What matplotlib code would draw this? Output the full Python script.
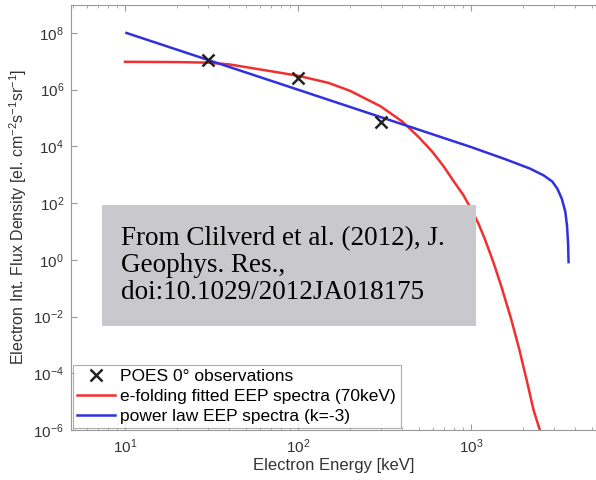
import numpy as np
import matplotlib
matplotlib.use("Agg")
import matplotlib.pyplot as plt
from matplotlib.patches import Rectangle
from matplotlib.ticker import LogLocator, NullFormatter

# ---- data ----
poes_energy = [30, 100, 300]
poes_flux = [1.1e7, 2.6e6, 7.2e4]

efold_energy = [10, 20, 30, 40, 60, 80, 100, 150, 200, 300, 400, 500, 600, 700, 800,
                900, 1000, 1100, 1200, 1350, 1500, 1700, 1900, 2100, 2300, 2530]
efold_flux = [9.6e6, 9.4e6, 9.0e6, 7.8e6, 5.2e6, 3.9e6, 3.1e6, 1.74e6, 9.1e5, 2.6e5, 7.6e4,
              2.1e4, 6.3e3, 1.86e3, 5.5e2, 2.0e2, 6.3e1, 2.0e1, 5.6, 7.9e-1, 1.12e-1,
              8.9e-3, 7.1e-4, 5.6e-5, 5.0e-6, 7.9e-7]

power_energy = [10.2, 100, 1000, 1585, 2188, 2630, 2951, 3162, 3350, 3508, 3589, 3639, 3664]
power_flux = [1.0e8, 1.0e6, 9.5e3, 3.5e3, 1.66e3, 9.5e2, 5.75e2, 3.16e2, 1.41e2, 5.0e1,
              1.58e1, 4.0, 0.83]

legend_labels = ["POES 0\u00b0 observations",
                 "e-folding fitted EEP spectra (70keV)",
                 "power law EEP spectra (k=-3)"]
xlabel = "Electron Energy [keV]"
ylabel = "Electron Int. Flux Density [el. cm$^{-2}$s$^{-1}$sr$^{-1}$]"
note = "From Clilverd et al. (2012), J.\nGeophys. Res.,\ndoi:10.1029/2012JA018175"

plt.rcParams['font.family'] = ['Liberation Sans', 'DejaVu Sans']
plt.rcParams['mathtext.fontset'] = 'custom'
plt.rcParams['mathtext.rm'] = 'Liberation Sans'
plt.rcParams['mathtext.it'] = 'Liberation Sans:italic'

W, H = 596, 480
fig = plt.figure(figsize=(W / 100, H / 100), dpi=100)
left_px, right_px, top_px, bot_px = 71, 596, 4.6, 430
ax = fig.add_axes([left_px / W, 1 - bot_px / H, (right_px - left_px) / W, (bot_px - top_px) / H])

ax.set_xscale('log')
ax.set_yscale('log')
ax.set_xlim(10 ** 0.688, 10 ** 3.7225)
ax.set_ylim(1e-6, 1e9)

l1, = ax.plot(poes_energy, poes_flux, linestyle='none', marker='x', color='#222222',
              markersize=8, markeredgewidth=1.8, zorder=4)
l2, = ax.plot(efold_energy, efold_flux, color='#f03030', lw=1.8)
l3, = ax.plot(power_energy, power_flux, color='#3030e0', lw=1.8)

ax.set_yticks([1e-6, 1e-4, 1e-2, 1e0, 1e2, 1e4, 1e6, 1e8])
ax.yaxis.set_minor_locator(plt.NullLocator())
ax.xaxis.set_major_locator(LogLocator(base=10, numticks=10))
ax.xaxis.set_minor_locator(LogLocator(base=10, subs=np.arange(2, 10), numticks=20))
ax.xaxis.set_minor_formatter(NullFormatter())
ax.tick_params(which='both', direction='in', top=True, right=False, colors='#999999',
               labelcolor='#333333', labelsize=11)
ax.tick_params(which='major', length=4, pad=5)
ax.tick_params(which='minor', length=2)
for s in ['left', 'bottom', 'top']:
    ax.spines[s].set_color('#999999')
ax.spines['right'].set_visible(False)

ax.set_xlabel(xlabel, fontsize=12, color='#333333', labelpad=2)
ax.set_ylabel(ylabel, fontsize=11.5, color='#333333', labelpad=3)

leg = ax.legend([l1, l2, l3], legend_labels, loc='lower left', fontsize=12.5,
                frameon=True, fancybox=False, edgecolor='#999999', borderaxespad=0.1,
                handlelength=2.2, labelspacing=0.27, borderpad=0.25, handletextpad=0.3)
leg.get_frame().set_linewidth(0.8)

# gray note box
fig.patches.append(Rectangle((102 / W, 1 - 326 / H), (476 - 102) / W, (326 - 205) / H,
                             transform=fig.transFigure, facecolor='#c9c9cd',
                             edgecolor='none', zorder=5))
fig.text(121 / W, 1 - 226 / H, note, fontsize=19.5, family='Liberation Serif',
         va='top', ha='left', linespacing=1.1, zorder=6)

fig.savefig('out.png', dpi=100)
